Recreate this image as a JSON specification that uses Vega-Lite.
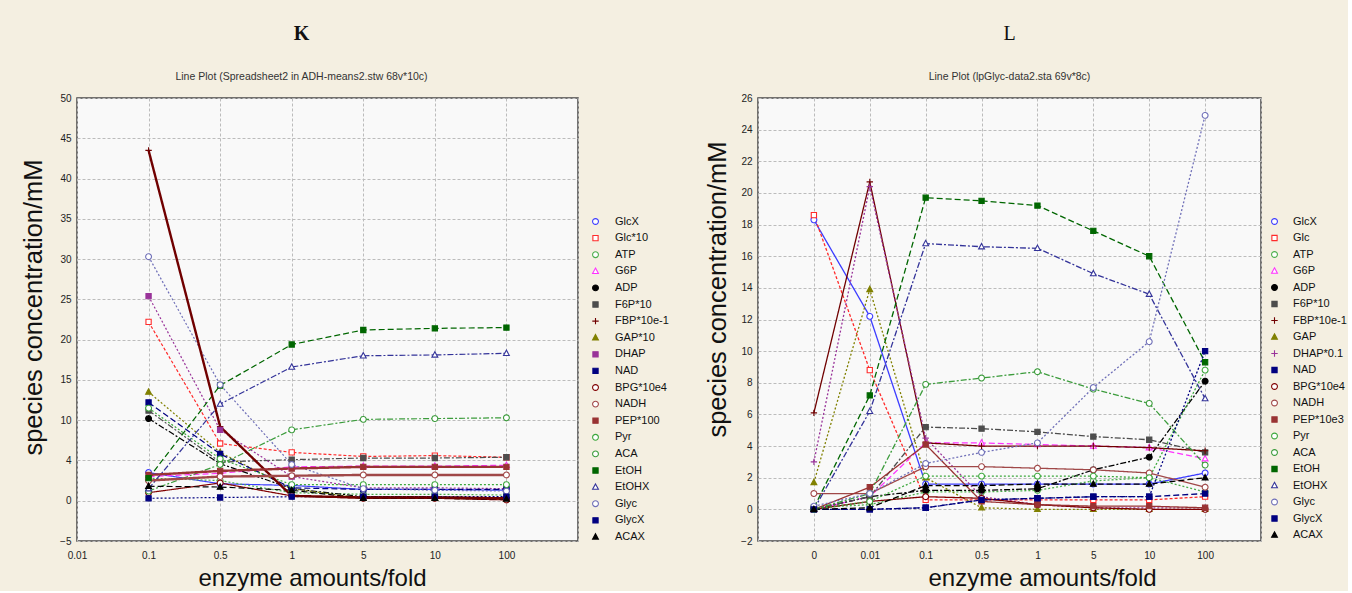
{
"$schema": "https://vega.github.io/schema/vega-lite/v6.json",
"background": "#f4efe1",
"padding": {"left": 20, "top": 22, "right": 0, "bottom": 0},
"spacing": 34,
"datasets": {
"k": [
{"s":"GlcX","x":"0.1","y":3.5},{"s":"GlcX","x":"0.5","y":2.1},{"s":"GlcX","x":"1","y":1.9},{"s":"GlcX","x":"5","y":1.4},{"s":"GlcX","x":"10","y":1.4},{"s":"GlcX","x":"100","y":1.3},
{"s":"Glc*10","x":"0.1","y":22.2},{"s":"Glc*10","x":"0.5","y":7.1},{"s":"Glc*10","x":"1","y":6.0},{"s":"Glc*10","x":"5","y":5.5},{"s":"Glc*10","x":"10","y":5.6},{"s":"Glc*10","x":"100","y":5.4},
{"s":"ATP","x":"0.1","y":2.8},{"s":"ATP","x":"0.5","y":2.5},{"s":"ATP","x":"1","y":1.0},{"s":"ATP","x":"5","y":0.8},{"s":"ATP","x":"10","y":0.8},{"s":"ATP","x":"100","y":0.7},
{"s":"G6P","x":"0.1","y":3.0},{"s":"G6P","x":"0.5","y":3.4},{"s":"G6P","x":"1","y":4.2},{"s":"G6P","x":"5","y":4.3},{"s":"G6P","x":"10","y":4.3},{"s":"G6P","x":"100","y":4.4},
{"s":"ADP","x":"0.1","y":10.2},{"s":"ADP","x":"0.5","y":4.6},{"s":"ADP","x":"1","y":1.5},{"s":"ADP","x":"5","y":0.5},{"s":"ADP","x":"10","y":0.5},{"s":"ADP","x":"100","y":0.3},
{"s":"F6P*10","x":"0.1","y":11.2},{"s":"F6P*10","x":"0.5","y":4.8},{"s":"F6P*10","x":"1","y":5.1},{"s":"F6P*10","x":"5","y":5.3},{"s":"F6P*10","x":"10","y":5.3},{"s":"F6P*10","x":"100","y":5.4},
{"s":"FBP*10e-1","x":"0.1","y":43.5},{"s":"FBP*10e-1","x":"0.5","y":9.2},{"s":"FBP*10e-1","x":"1","y":0.6},{"s":"FBP*10e-1","x":"5","y":0.4},{"s":"FBP*10e-1","x":"10","y":0.4},{"s":"FBP*10e-1","x":"100","y":0.3},
{"s":"GAP*10","x":"0.1","y":13.5},{"s":"GAP*10","x":"0.5","y":6.0},{"s":"GAP*10","x":"1","y":1.5},{"s":"GAP*10","x":"5","y":0.3},{"s":"GAP*10","x":"10","y":0.3},{"s":"GAP*10","x":"100","y":0.2},
{"s":"DHAP","x":"0.1","y":25.4},{"s":"DHAP","x":"0.5","y":8.8},{"s":"DHAP","x":"1","y":3.0},{"s":"DHAP","x":"5","y":1.6},{"s":"DHAP","x":"10","y":1.6},{"s":"DHAP","x":"100","y":1.5},
{"s":"NAD","x":"0.1","y":12.2},{"s":"NAD","x":"0.5","y":5.8},{"s":"NAD","x":"1","y":1.6},{"s":"NAD","x":"5","y":1.4},{"s":"NAD","x":"10","y":1.4},{"s":"NAD","x":"100","y":1.4},
{"s":"BPG*10e4","x":"0.1","y":1.0},{"s":"BPG*10e4","x":"0.5","y":2.2},{"s":"BPG*10e4","x":"1","y":0.6},{"s":"BPG*10e4","x":"5","y":0.3},{"s":"BPG*10e4","x":"10","y":0.3},{"s":"BPG*10e4","x":"100","y":0.1},
{"s":"NADH","x":"0.1","y":2.5},{"s":"NADH","x":"0.5","y":3.0},{"s":"NADH","x":"1","y":3.1},{"s":"NADH","x":"5","y":3.2},{"s":"NADH","x":"10","y":3.2},{"s":"NADH","x":"100","y":3.2},
{"s":"PEP*100","x":"0.1","y":3.2},{"s":"PEP*100","x":"0.5","y":3.7},{"s":"PEP*100","x":"1","y":4.0},{"s":"PEP*100","x":"5","y":4.2},{"s":"PEP*100","x":"10","y":4.2},{"s":"PEP*100","x":"100","y":4.2},
{"s":"Pyr","x":"0.1","y":11.5},{"s":"Pyr","x":"0.5","y":5.2},{"s":"Pyr","x":"1","y":2.0},{"s":"Pyr","x":"5","y":2.0},{"s":"Pyr","x":"10","y":2.0},{"s":"Pyr","x":"100","y":2.0},
{"s":"ACA","x":"0.1","y":1.2},{"s":"ACA","x":"0.5","y":4.5},{"s":"ACA","x":"1","y":8.8},{"s":"ACA","x":"5","y":10.1},{"s":"ACA","x":"10","y":10.2},{"s":"ACA","x":"100","y":10.3},
{"s":"EtOH","x":"0.1","y":2.8},{"s":"EtOH","x":"0.5","y":14.3},{"s":"EtOH","x":"1","y":19.4},{"s":"EtOH","x":"5","y":21.2},{"s":"EtOH","x":"10","y":21.4},{"s":"EtOH","x":"100","y":21.5},
{"s":"EtOHX","x":"0.1","y":1.5},{"s":"EtOHX","x":"0.5","y":12.0},{"s":"EtOHX","x":"1","y":16.6},{"s":"EtOHX","x":"5","y":18.0},{"s":"EtOHX","x":"10","y":18.1},{"s":"EtOHX","x":"100","y":18.3},
{"s":"Glyc","x":"0.1","y":30.3},{"s":"Glyc","x":"0.5","y":14.4},{"s":"Glyc","x":"1","y":4.5},{"s":"Glyc","x":"5","y":1.5},{"s":"Glyc","x":"10","y":1.3},{"s":"Glyc","x":"100","y":1.2},
{"s":"GlycX","x":"0.1","y":0.3},{"s":"GlycX","x":"0.5","y":0.4},{"s":"GlycX","x":"1","y":0.5},{"s":"GlycX","x":"5","y":0.5},{"s":"GlycX","x":"10","y":0.5},{"s":"GlycX","x":"100","y":0.5},
{"s":"ACAX","x":"0.1","y":1.8},{"s":"ACAX","x":"0.5","y":1.7},{"s":"ACAX","x":"1","y":1.3},{"s":"ACAX","x":"5","y":0.3},{"s":"ACAX","x":"10","y":0.3},{"s":"ACAX","x":"100","y":0.2}
],
"l": [
{"s":"GlcX","x":"0","y":18.3},{"s":"GlcX","x":"0.01","y":12.2},{"s":"GlcX","x":"0.1","y":1.6},{"s":"GlcX","x":"0.5","y":1.6},{"s":"GlcX","x":"1","y":1.6},{"s":"GlcX","x":"5","y":1.6},{"s":"GlcX","x":"10","y":1.6},{"s":"GlcX","x":"100","y":2.3},
{"s":"Glc","x":"0","y":18.6},{"s":"Glc","x":"0.01","y":8.8},{"s":"Glc","x":"0.1","y":0.6},{"s":"Glc","x":"0.5","y":0.6},{"s":"Glc","x":"1","y":0.6},{"s":"Glc","x":"5","y":0.6},{"s":"Glc","x":"10","y":0.6},{"s":"Glc","x":"100","y":0.8},
{"s":"ATP","x":"0","y":0.1},{"s":"ATP","x":"0.01","y":0.3},{"s":"ATP","x":"0.1","y":1.1},{"s":"ATP","x":"0.5","y":1.1},{"s":"ATP","x":"1","y":1.2},{"s":"ATP","x":"5","y":1.8},{"s":"ATP","x":"10","y":2.0},{"s":"ATP","x":"100","y":1.1},
{"s":"G6P","x":"0","y":0.0},{"s":"G6P","x":"0.01","y":0.8},{"s":"G6P","x":"0.1","y":4.2},{"s":"G6P","x":"0.5","y":4.2},{"s":"G6P","x":"1","y":4.1},{"s":"G6P","x":"5","y":4.0},{"s":"G6P","x":"10","y":3.9},{"s":"G6P","x":"100","y":3.2},
{"s":"ADP","x":"0","y":0.0},{"s":"ADP","x":"0.01","y":0.8},{"s":"ADP","x":"0.1","y":1.2},{"s":"ADP","x":"0.5","y":1.2},{"s":"ADP","x":"1","y":1.3},{"s":"ADP","x":"5","y":2.5},{"s":"ADP","x":"10","y":3.3},{"s":"ADP","x":"100","y":8.1},
{"s":"F6P*10","x":"0","y":0.0},{"s":"F6P*10","x":"0.01","y":0.8},{"s":"F6P*10","x":"0.1","y":5.2},{"s":"F6P*10","x":"0.5","y":5.1},{"s":"F6P*10","x":"1","y":4.9},{"s":"F6P*10","x":"5","y":4.6},{"s":"F6P*10","x":"10","y":4.4},{"s":"F6P*10","x":"100","y":3.6},
{"s":"FBP*10e-1","x":"0","y":6.1},{"s":"FBP*10e-1","x":"0.01","y":20.7},{"s":"FBP*10e-1","x":"0.1","y":4.2},{"s":"FBP*10e-1","x":"0.5","y":4.0},{"s":"FBP*10e-1","x":"1","y":4.0},{"s":"FBP*10e-1","x":"5","y":4.0},{"s":"FBP*10e-1","x":"10","y":3.9},{"s":"FBP*10e-1","x":"100","y":3.7},
{"s":"GAP","x":"0","y":1.7},{"s":"GAP","x":"0.01","y":13.9},{"s":"GAP","x":"0.1","y":2.0},{"s":"GAP","x":"0.5","y":0.1},{"s":"GAP","x":"1","y":0.0},{"s":"GAP","x":"5","y":0.0},{"s":"GAP","x":"10","y":0.0},{"s":"GAP","x":"100","y":0.0},
{"s":"DHAP*0.1","x":"0","y":3.0},{"s":"DHAP*0.1","x":"0.01","y":20.4},{"s":"DHAP*0.1","x":"0.1","y":4.5},{"s":"DHAP*0.1","x":"0.5","y":0.8},{"s":"DHAP*0.1","x":"1","y":0.3},{"s":"DHAP*0.1","x":"5","y":0.1},{"s":"DHAP*0.1","x":"10","y":0.1},{"s":"DHAP*0.1","x":"100","y":0.1},
{"s":"NAD","x":"0","y":0.0},{"s":"NAD","x":"0.01","y":0.0},{"s":"NAD","x":"0.1","y":0.1},{"s":"NAD","x":"0.5","y":0.6},{"s":"NAD","x":"1","y":0.7},{"s":"NAD","x":"5","y":0.8},{"s":"NAD","x":"10","y":0.8},{"s":"NAD","x":"100","y":1.0},
{"s":"BPG*10e4","x":"0","y":0.0},{"s":"BPG*10e4","x":"0.01","y":0.5},{"s":"BPG*10e4","x":"0.1","y":0.8},{"s":"BPG*10e4","x":"0.5","y":0.7},{"s":"BPG*10e4","x":"1","y":0.3},{"s":"BPG*10e4","x":"5","y":0.1},{"s":"BPG*10e4","x":"10","y":0.0},{"s":"BPG*10e4","x":"100","y":0.0},
{"s":"NADH","x":"0","y":1.0},{"s":"NADH","x":"0.01","y":1.0},{"s":"NADH","x":"0.1","y":2.7},{"s":"NADH","x":"0.5","y":2.7},{"s":"NADH","x":"1","y":2.6},{"s":"NADH","x":"5","y":2.5},{"s":"NADH","x":"10","y":2.3},{"s":"NADH","x":"100","y":1.4},
{"s":"PEP*10e3","x":"0","y":0.0},{"s":"PEP*10e3","x":"0.01","y":1.4},{"s":"PEP*10e3","x":"0.1","y":4.1},{"s":"PEP*10e3","x":"0.5","y":0.5},{"s":"PEP*10e3","x":"1","y":0.3},{"s":"PEP*10e3","x":"5","y":0.2},{"s":"PEP*10e3","x":"10","y":0.2},{"s":"PEP*10e3","x":"100","y":0.1},
{"s":"Pyr","x":"0","y":0.0},{"s":"Pyr","x":"0.01","y":0.5},{"s":"Pyr","x":"0.1","y":2.1},{"s":"Pyr","x":"0.5","y":2.1},{"s":"Pyr","x":"1","y":2.1},{"s":"Pyr","x":"5","y":2.1},{"s":"Pyr","x":"10","y":2.0},{"s":"Pyr","x":"100","y":8.8},
{"s":"ACA","x":"0","y":0.0},{"s":"ACA","x":"0.01","y":1.0},{"s":"ACA","x":"0.1","y":7.9},{"s":"ACA","x":"0.5","y":8.3},{"s":"ACA","x":"1","y":8.7},{"s":"ACA","x":"5","y":7.6},{"s":"ACA","x":"10","y":6.7},{"s":"ACA","x":"100","y":2.8},
{"s":"EtOH","x":"0","y":0.1},{"s":"EtOH","x":"0.01","y":7.2},{"s":"EtOH","x":"0.1","y":19.7},{"s":"EtOH","x":"0.5","y":19.5},{"s":"EtOH","x":"1","y":19.2},{"s":"EtOH","x":"5","y":17.6},{"s":"EtOH","x":"10","y":16.0},{"s":"EtOH","x":"100","y":9.3},
{"s":"EtOHX","x":"0","y":0.0},{"s":"EtOHX","x":"0.01","y":6.2},{"s":"EtOHX","x":"0.1","y":16.8},{"s":"EtOHX","x":"0.5","y":16.6},{"s":"EtOHX","x":"1","y":16.5},{"s":"EtOHX","x":"5","y":14.9},{"s":"EtOHX","x":"10","y":13.6},{"s":"EtOHX","x":"100","y":7.0},
{"s":"Glyc","x":"0","y":0.2},{"s":"Glyc","x":"0.01","y":1.0},{"s":"Glyc","x":"0.1","y":2.9},{"s":"Glyc","x":"0.5","y":3.6},{"s":"Glyc","x":"1","y":4.2},{"s":"Glyc","x":"5","y":7.7},{"s":"Glyc","x":"10","y":10.6},{"s":"Glyc","x":"100","y":24.9},
{"s":"GlycX","x":"0","y":0.0},{"s":"GlycX","x":"0.01","y":0.0},{"s":"GlycX","x":"0.1","y":0.1},{"s":"GlycX","x":"0.5","y":0.6},{"s":"GlycX","x":"1","y":0.7},{"s":"GlycX","x":"5","y":0.8},{"s":"GlycX","x":"10","y":0.8},{"s":"GlycX","x":"100","y":10.0},
{"s":"ACAX","x":"0","y":0.0},{"s":"ACAX","x":"0.01","y":0.1},{"s":"ACAX","x":"0.1","y":1.5},{"s":"ACAX","x":"0.5","y":1.5},{"s":"ACAX","x":"1","y":1.6},{"s":"ACAX","x":"5","y":1.6},{"s":"ACAX","x":"10","y":1.6},{"s":"ACAX","x":"100","y":2.0}
]
},
"hconcat": [
{
"width": 501, "height": 443,
"title": {"text": "K", "subtitle": "Line Plot (Spreadsheet2 in ADH-means2.stw 68v*10c)", "fontWeight": "bold", "dx": -26},
"data": {"name": "k"},
"encoding": {
"x": {"field": "x", "type": "ordinal", "sort": ["0.01","0.1","0.5","1","5","10","100"," "], "scale": {"type": "point", "domain": ["0.01","0.1","0.5","1","5","10","100"," "], "padding": 0},
 "axis": {"labelAngle": 0, "labelPadding": 9, "title": "enzyme amounts/fold", "titleFontSize": 24, "titleX": 235, "titleY": 44, "titleBaseline": "alphabetic", "titleAlign": "center"}},
"y": {"field": "y", "type": "quantitative", "scale": {"domain": [-5, 50], "nice": false, "zero": false},
 "axis": {"values": [-5,0,5,10,15,20,25,30,35,40,45,50], "labelExpr": "datum.value == 5 ? '4' : datum.label", "labelPadding": 6, "title": "species concentration/mM", "titleFontSize": 25.5, "titleX": -44, "titleY": 209, "titleAlign": "center", "titleBaseline": "middle"}},
"stroke": {"field": "s", "type": "nominal", "scale": {"domain": ["GlcX","Glc*10","ATP","G6P","ADP","F6P*10","FBP*10e-1","GAP*10","DHAP","NAD","BPG*10e4","NADH","PEP*100","Pyr","ACA","EtOH","EtOHX","Glyc","GlycX","ACAX"], "range": ["#3c3cff","#ff2a2a","#4cae4c","#ff33ff","#000000","#4d4d4d","#700000","#808000","#993399","#000080","#800000","#a04848","#993333","#3da83d","#3c9c3c","#006600","#333399","#7070b8","#000080","#000000"]}},
"strokeDash": {"field": "s", "type": "nominal", "scale": {"domain": ["ACAX","GlycX","Glyc","EtOHX","EtOH","ACA","Pyr","PEP*100","NADH","BPG*10e4","NAD","DHAP","GAP*10","FBP*10e-1","F6P*10","ADP","G6P","ATP","Glc*10","GlcX"], "range": [[6,3],[2,2],[2,2],[6,2,2,2],[6,3],[6,2,2,2],[2,2],[1,0],[1,0],[1,0],[6,3],[2,2],[2,2],[1,0],[6,2,2,2],[6,2,2,2],[6,3],[2,2],[3,2],[1,0]]}, "legend": null}
},
"layer": [
{"transform": [{"filter": {"not": {"field": "s", "oneOf": ["FBP*10e-1","NADH","PEP*100"]}}}], "mark": {"type": "line", "strokeWidth": 1.2}, "encoding": {}},
{"transform": [{"filter": {"field": "s", "oneOf": ["FBP*10e-1","NADH","PEP*100"]}}], "mark": {"type": "line", "strokeWidth": 2.4}, "encoding": {}},
{"mark": {"type": "point", "size": 34, "strokeWidth": 1.1, "opacity": 1},
 "encoding": {
  "strokeDash": {"value": [1,0]},
  "fill": {"field": "s", "type": "nominal", "scale": {"domain": ["GlcX","Glc*10","ATP","G6P","ADP","F6P*10","FBP*10e-1","GAP*10","DHAP","NAD","BPG*10e4","NADH","PEP*100","Pyr","ACA","EtOH","EtOHX","Glyc","GlycX","ACAX"], "range": ["#ffffff","#ffffff","#ffffff","#ffffff","#000000","#4d4d4d","#700000","#808000","#993399","#000080","#ffffff","#ffffff","#993333","#ffffff","#ffffff","#006600","#ffffff","#ffffff","#000080","#000000"]}},
  "shape": {"field": "s", "type": "nominal", "scale": {"domain": ["GlcX","Glc*10","ATP","G6P","ADP","F6P*10","FBP*10e-1","GAP*10","DHAP","NAD","BPG*10e4","NADH","PEP*100","Pyr","ACA","EtOH","EtOHX","Glyc","GlycX","ACAX"],
   "range": ["M-1,0A1,1,0,1,1,1,0A1,1,0,1,1,-1,0Z","M-0.9,-0.9H0.9V0.9H-0.9Z","M-1,0A1,1,0,1,1,1,0A1,1,0,1,1,-1,0Z","M0,-1.1L1,0.75H-1Z","M-1,0A1,1,0,1,1,1,0A1,1,0,1,1,-1,0Z","M-0.9,-0.9H0.9V0.9H-0.9Z","M-1.1,0H1.1M0,-1.1V1.1","M0,-1.1L1,0.75H-1Z","M-0.9,-0.9H0.9V0.9H-0.9Z","M-0.9,-0.9H0.9V0.9H-0.9Z","M-1,0A1,1,0,1,1,1,0A1,1,0,1,1,-1,0Z","M-1,0A1,1,0,1,1,1,0A1,1,0,1,1,-1,0Z","M-0.9,-0.9H0.9V0.9H-0.9Z","M-1,0A1,1,0,1,1,1,0A1,1,0,1,1,-1,0Z","M-1,0A1,1,0,1,1,1,0A1,1,0,1,1,-1,0Z","M-0.9,-0.9H0.9V0.9H-0.9Z","M0,-1.1L1,0.75H-1Z","M-1,0A1,1,0,1,1,1,0A1,1,0,1,1,-1,0Z","M-0.9,-0.9H0.9V0.9H-0.9Z","M0,-1.1L1,0.75H-1Z"]},
   "legend": {"orient": "none", "legendX": 513, "legendY": 118, "title": null, "labelFont": "Liberation Sans", "labelFontSize": 11, "labelColor": "#111", "labelOffset": 14, "symbolSize": 34, "symbolStrokeWidth": 1.1, "rowPadding": 4.6}}
 }}
]
},
{
"width": 503, "height": 443,
"title": {"text": "L", "subtitle": "Line Plot (lpGlyc-data2.sta 69v*8c)", "fontWeight": "normal", "dx": 0},
"data": {"name": "l"},
"encoding": {
"x": {"field": "x", "type": "ordinal", "sort": [" ","0","0.01","0.1","0.5","1","5","10","100","  "], "scale": {"type": "point", "domain": [" ","0","0.01","0.1","0.5","1","5","10","100","  "], "padding": 0},
 "axis": {"labelAngle": 0, "labelPadding": 9, "title": "enzyme amounts/fold", "titleFontSize": 24, "titleX": 284, "titleY": 44, "titleBaseline": "alphabetic", "titleAlign": "center"}},
"y": {"field": "y", "type": "quantitative", "scale": {"domain": [-2, 26], "nice": false, "zero": false},
 "axis": {"values": [-2,0,2,4,6,8,10,12,14,16,18,20,22,24,26], "labelPadding": 6, "title": "species concentration/mM", "titleFontSize": 25.5, "titleX": -41, "titleY": 191, "titleAlign": "center", "titleBaseline": "middle"}},
"stroke": {"field": "s", "type": "nominal", "scale": {"domain": ["GlcX","Glc","ATP","G6P","ADP","F6P*10","FBP*10e-1","GAP","DHAP*0.1","NAD","BPG*10e4","NADH","PEP*10e3","Pyr","ACA","EtOH","EtOHX","Glyc","GlycX","ACAX"], "range": ["#3c3cff","#ff2a2a","#4cae4c","#ff33ff","#000000","#4d4d4d","#700000","#808000","#993399","#000080","#800000","#a04848","#993333","#3da83d","#3c9c3c","#006600","#333399","#7070b8","#000080","#000000"]}},
"strokeDash": {"field": "s", "type": "nominal", "scale": {"domain": ["ACAX","GlycX","Glyc","EtOHX","EtOH","ACA","Pyr","PEP*10e3","NADH","BPG*10e4","NAD","DHAP*0.1","GAP","FBP*10e-1","F6P*10","ADP","G6P","ATP","Glc","GlcX"], "range": [[6,3],[2,2],[2,2],[6,2,2,2],[6,3],[6,2,2,2],[2,2],[1,0],[1,0],[1,0],[6,3],[2,2],[2,2],[1,0],[6,2,2,2],[6,2,2,2],[6,3],[2,2],[3,2],[1,0]]}, "legend": null}
},
"layer": [
{"mark": {"type": "line", "strokeWidth": 1.3}, "encoding": {}},
{"mark": {"type": "point", "size": 34, "strokeWidth": 1.1, "opacity": 1},
 "encoding": {
  "strokeDash": {"value": [1,0]},
  "fill": {"field": "s", "type": "nominal", "scale": {"domain": ["GlcX","Glc","ATP","G6P","ADP","F6P*10","FBP*10e-1","GAP","DHAP*0.1","NAD","BPG*10e4","NADH","PEP*10e3","Pyr","ACA","EtOH","EtOHX","Glyc","GlycX","ACAX"], "range": ["#ffffff","#ffffff","#ffffff","#ffffff","#000000","#4d4d4d","#700000","#808000","#993399","#000080","#ffffff","#ffffff","#993333","#ffffff","#ffffff","#006600","#ffffff","#ffffff","#000080","#000000"]}},
  "shape": {"field": "s", "type": "nominal", "scale": {"domain": ["GlcX","Glc","ATP","G6P","ADP","F6P*10","FBP*10e-1","GAP","DHAP*0.1","NAD","BPG*10e4","NADH","PEP*10e3","Pyr","ACA","EtOH","EtOHX","Glyc","GlycX","ACAX"],
   "range": ["M-1,0A1,1,0,1,1,1,0A1,1,0,1,1,-1,0Z","M-0.9,-0.9H0.9V0.9H-0.9Z","M-1,0A1,1,0,1,1,1,0A1,1,0,1,1,-1,0Z","M0,-1.1L1,0.75H-1Z","M-1,0A1,1,0,1,1,1,0A1,1,0,1,1,-1,0Z","M-0.9,-0.9H0.9V0.9H-0.9Z","M-1.1,0H1.1M0,-1.1V1.1","M0,-1.1L1,0.75H-1Z","M-1.1,0H1.1M0,-1.1V1.1","M-0.9,-0.9H0.9V0.9H-0.9Z","M-1,0A1,1,0,1,1,1,0A1,1,0,1,1,-1,0Z","M-1,0A1,1,0,1,1,1,0A1,1,0,1,1,-1,0Z","M-0.9,-0.9H0.9V0.9H-0.9Z","M-1,0A1,1,0,1,1,1,0A1,1,0,1,1,-1,0Z","M-1,0A1,1,0,1,1,1,0A1,1,0,1,1,-1,0Z","M-0.9,-0.9H0.9V0.9H-0.9Z","M0,-1.1L1,0.75H-1Z","M-1,0A1,1,0,1,1,1,0A1,1,0,1,1,-1,0Z","M-0.9,-0.9H0.9V0.9H-0.9Z","M0,-1.1L1,0.75H-1Z"]},
   "legend": {"orient": "none", "legendX": 511, "legendY": 118, "title": null, "labelFont": "Liberation Sans", "labelFontSize": 11, "labelColor": "#111", "labelOffset": 13, "symbolSize": 34, "symbolStrokeWidth": 1.1, "rowPadding": 4.5}}
 }}
]
}
],
"resolve": {"scale": {"x": "independent", "y": "independent", "stroke": "independent", "fill": "independent", "shape": "independent", "strokeDash": "independent"}, "legend": {"shape": "independent", "stroke": "independent", "fill": "independent"}},
"config": {
"view": {"fill": "#f9f9f9", "stroke": "#474747", "strokeWidth": 1.5},
"axis": {"grid": true, "gridColor": "#bcbcbc", "gridDash": [3,2], "gridWidth": 1, "domain": false, "ticks": false, "labelFont": "Liberation Sans", "labelFontSize": 10, "labelColor": "#222", "titleFont": "Liberation Sans", "titleFontSize": 24, "titleFontWeight": "normal", "titleColor": "#111"},
"title": {"font": "Liberation Serif", "fontSize": 20, "color": "#111", "subtitleFont": "Liberation Sans", "subtitleFontSize": 10.5, "subtitleColor": "#333", "subtitlePadding": 28, "offset": 11, "anchor": "middle", "frame": "group"}
}
}
